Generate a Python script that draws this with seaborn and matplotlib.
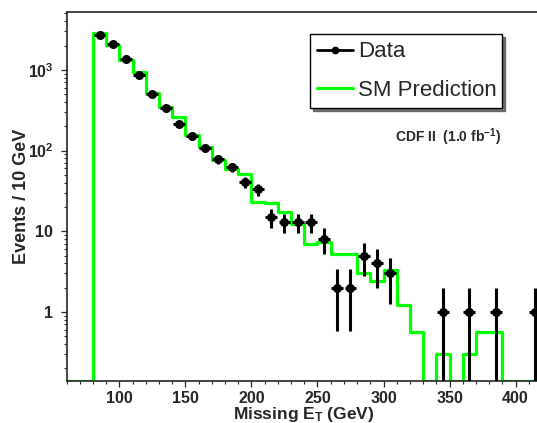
import numpy as np
import pandas as pd
import matplotlib
matplotlib.use('Agg')
import matplotlib.pyplot as plt
from matplotlib.lines import Line2D
from matplotlib.ticker import MultipleLocator, LogLocator, FuncFormatter, NullFormatter
import seaborn as sns

# 10 GeV bins of missing E_T
bin_edges = list(range(60, 430, 10))

# observed events, bins 80-90 ... 410-420
data_centers = [85, 95, 105, 115, 125, 135, 145, 155, 165, 175, 185, 195, 205,
                215, 225, 235, 245, 255, 265, 275, 285, 295, 305, 315, 325, 335,
                345, 355, 365, 375, 385, 395, 405, 415]
data_counts = [2700, 2075, 1350, 865, 503, 340, 215, 153, 109, 78, 62, 41, 33,
               15, 13, 13, 13, 8, 2, 2, 5, 4, 3, 0, 0, 0,
               1, 0, 1, 0, 1, 0, 0, 1]

# SM prediction, bins 60-70 ... 410-420
sm_pred = [0, 0, 2840, 2040, 1330, 940, 520, 344, 258, 155, 110, 77, 59, 52,
           23.3, 22.2, 17.5, 12.3, 7.0, 7.4, 5.3, 5.3, 3.0, 2.4, 3.3, 1.22, 0.57,
           0, 0.30, 0, 0.30, 0.57, 0.57, 0, 0, 0]

y_lo, y_hi = 0.1396, 5215

sns.set_style('ticks')
plt.rcParams['font.family'] = ['Liberation Sans', 'DejaVu Sans']
plt.rcParams['mathtext.fontset'] = 'custom'
plt.rcParams['mathtext.rm'] = 'Liberation Sans:bold'
plt.rcParams['mathtext.bf'] = 'Liberation Sans:bold'
plt.rcParams['mathtext.it'] = 'Liberation Sans:bold'

fig = plt.figure(figsize=(5.37, 4.23), dpi=100)
ax = fig.add_axes([66.5 / 537, 42 / 423, 470.5 / 537, 369 / 423])

# empty bins are drawn along the bottom of the frame, like ROOT does
edges = np.array(bin_edges)
sm_df = pd.DataFrame({'center': (edges[:-1] + edges[1:]) / 2,
                      'pred': np.where(np.array(sm_pred) > 0, sm_pred, y_lo)})
sns.histplot(data=sm_df, x='center', weights='pred', bins=bin_edges,
             element='step', fill=False, color='#00ff00', linewidth=2.3, ax=ax)

dd = pd.DataFrame({'x': data_centers, 'n': data_counts})
dd = dd[dd['n'] > 0]
err = np.sqrt(dd['n'].values)
err_lo = np.minimum(err, dd['n'].values * 0.999)
ax.errorbar(dd['x'], dd['n'], yerr=[err_lo, err], xerr=4.5, fmt='o', color='black',
            ms=5.5, elinewidth=2.2, capsize=0, zorder=5)

ax.set_yscale('log')
ax.set_xlim(60, 416.2)
ax.set_ylim(y_lo, y_hi)

ax.xaxis.set_major_locator(MultipleLocator(50))
ax.xaxis.set_minor_locator(MultipleLocator(10))
ax.yaxis.set_major_locator(LogLocator(base=10, numticks=10))
ax.yaxis.set_minor_locator(LogLocator(base=10, subs=np.arange(2, 10) * 0.1 * 10, numticks=20))
ax.yaxis.set_minor_formatter(NullFormatter())

def ylab(v, pos):
    if v == 1:
        return '1'
    if v == 10:
        return '10'
    return r'$10^{%d}$' % round(np.log10(v))
ax.yaxis.set_major_formatter(FuncFormatter(ylab))

ax.tick_params(which='major', length=4.5, width=0.9, labelsize=11.5, pad=2.5)
ax.tick_params(which='minor', length=2.5, width=0.8)
ax.tick_params(axis='y', which='major', pad=5)
for lab in ax.get_xticklabels() + ax.get_yticklabels():
    lab.set_fontweight('bold')

for side in ['left', 'bottom', 'top']:
    ax.spines[side].set_linewidth(1.2)
ax.spines['right'].set_visible(False)

ax.set_xlabel(r'Missing E$_{T}$ (GeV)', fontsize=12.5, fontweight='bold')
ax.set_ylabel('Events / 10 GeV', fontsize=13, fontweight='bold')
ax.xaxis.set_label_coords(0.505, -0.064)
ax.yaxis.set_label_coords(-0.078, 0.5)

handles = [Line2D([], [], color='black', lw=2, marker='o', ms=4.5),
           Line2D([], [], color='#00ff00', lw=2.3)]
leg = ax.legend(handles, ['Data', 'SM Prediction'],
                bbox_to_anchor=((310 - 66.5) / 470.5, (381 - 112) / 369,
                                192 / 470.5, 78 / 369),
                loc='upper left', mode='expand', fontsize=16, frameon=True,
                fancybox=False, edgecolor='black', framealpha=1,
                borderpad=0.33, labelspacing=0.8, handlelength=1.6,
                handletextpad=0.25, borderaxespad=0,
                shadow={'ox': 2, 'oy': -2, 'facecolor': '0.35', 'edgecolor': '0.35', 'alpha': 0.85})
leg.get_frame().set_linewidth(1.0)

ax.text((501 - 66.5) / 470.5, (381 - 137) / 369, r'CDF II  (1.0 fb$^{-1}$)',
        transform=ax.transAxes, ha='right', va='center', fontsize=10, fontweight='bold')

fig.savefig('out.png', dpi=100)
